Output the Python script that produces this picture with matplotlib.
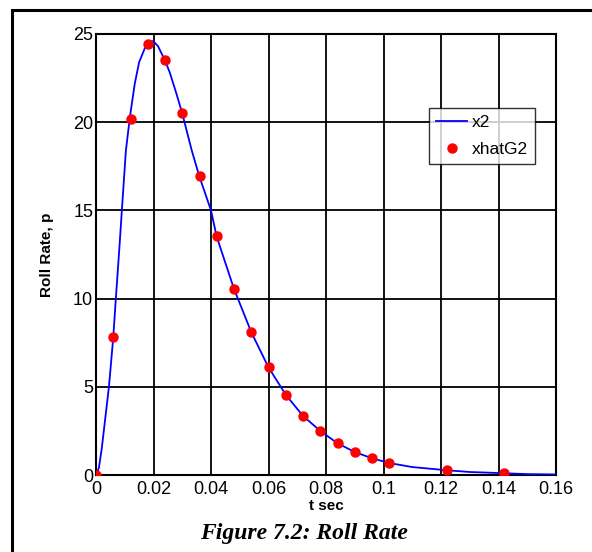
import numpy as np
import matplotlib.pyplot as plt
from matplotlib.patches import Rectangle

# x2 curve
t_x2 = [0, 0.001, 0.002, 0.003, 0.0045, 0.006, 0.0069, 0.0081, 0.0092, 0.0104,
        0.0118, 0.0135, 0.015, 0.017, 0.0185, 0.0195, 0.0205, 0.0216, 0.024, 0.0257,
        0.028, 0.030, 0.0333, 0.036, 0.040, 0.042, 0.048, 0.054, 0.060, 0.066,
        0.072, 0.078, 0.084, 0.090, 0.096, 0.102, 0.110, 0.122, 0.130, 0.142,
        0.150, 0.160]
x2 = [0, 0.4, 1.5, 2.9, 5.0, 7.8, 10.0, 12.8, 15.5, 18.4,
      20.3, 22.2, 23.4, 24.2, 24.5, 24.6, 24.5, 24.3, 23.5, 22.8,
      21.6, 20.5, 18.4, 16.9, 15.0, 13.5, 10.55, 8.1, 6.1, 4.55,
      3.35, 2.5, 1.8, 1.3, 0.95, 0.68, 0.45, 0.27, 0.17, 0.1,
      0.05, 0.03]

# xhatG2 estimates
t_hat = [0, 0.006, 0.012, 0.018, 0.024, 0.030, 0.036, 0.042, 0.048, 0.054,
         0.060, 0.066, 0.072, 0.078, 0.084, 0.090, 0.096, 0.102, 0.122, 0.142]
xhatG2 = [0, 7.8, 20.2, 24.45, 23.5, 20.5, 16.95, 13.55, 10.55, 8.1,
          6.1, 4.55, 3.35, 2.5, 1.8, 1.3, 0.95, 0.68, 0.27, 0.1]

xticks = [0, 0.02, 0.04, 0.06, 0.08, 0.1, 0.12, 0.14, 0.16]
xtick_labels = ['0', '0.02', '0.04', '0.06', '0.08', '0.1', '0.12', '0.14', '0.16']
yticks = [0, 5, 10, 15, 20, 25]

plt.rcParams['font.family'] = ['Liberation Sans', 'DejaVu Sans']

fig = plt.figure(figsize=(5.92, 5.52), dpi=100)
ax = fig.add_axes([96/592, 1 - 475/552, 460/592, 441/552])

# page frame, cut off at right and bottom
fig.patches.append(Rectangle((12/592, -0.05), 1.2, 1 - 10/552 + 0.05,
                             transform=fig.transFigure, fill=False,
                             edgecolor='black', linewidth=2.2, zorder=0))

ax.plot(t_x2, x2, color='blue', linewidth=1.3, label='x2', zorder=3)
ax.plot(t_hat, xhatG2, linestyle='none', marker='o', markersize=6.5,
        color='red', label='xhatG2', zorder=4)

ax.set_xlim(0, 0.16)
ax.set_ylim(0, 25)
ax.set_xticks(xticks)
ax.set_xticklabels(xtick_labels)
ax.set_yticks(yticks)
ax.grid(True, color='black', linewidth=1.3, linestyle='-')
ax.tick_params(direction='in', length=0, labelsize=13, pad=2)
ax.tick_params(axis='x', pad=4)
for s in ax.spines.values():
    s.set_linewidth(1.5)
ax.set_axisbelow(True)

ax.set_xlabel('t sec', fontsize=11, fontweight='bold', labelpad=1)
ax.set_ylabel('Roll Rate, p', fontsize=11, fontweight='bold', labelpad=14)

leg = ax.legend(loc='upper right', bbox_to_anchor=(0.954, 0.832),
                fontsize=12.5, frameon=True, fancybox=False, borderpad=0.4,
                handlelength=1.8, handletextpad=0.25, borderaxespad=0,
                labelspacing=0.7)
leg.get_frame().set_edgecolor('black')
leg.get_frame().set_linewidth(1.0)

fig.text(304/592, 1 - 533/552, 'Figure 7.2: Roll Rate', ha='center', va='center',
         fontsize=17, fontweight='bold', fontstyle='italic',
         family=['Liberation Serif', 'DejaVu Serif'])

fig.savefig('out.png', dpi=100)
